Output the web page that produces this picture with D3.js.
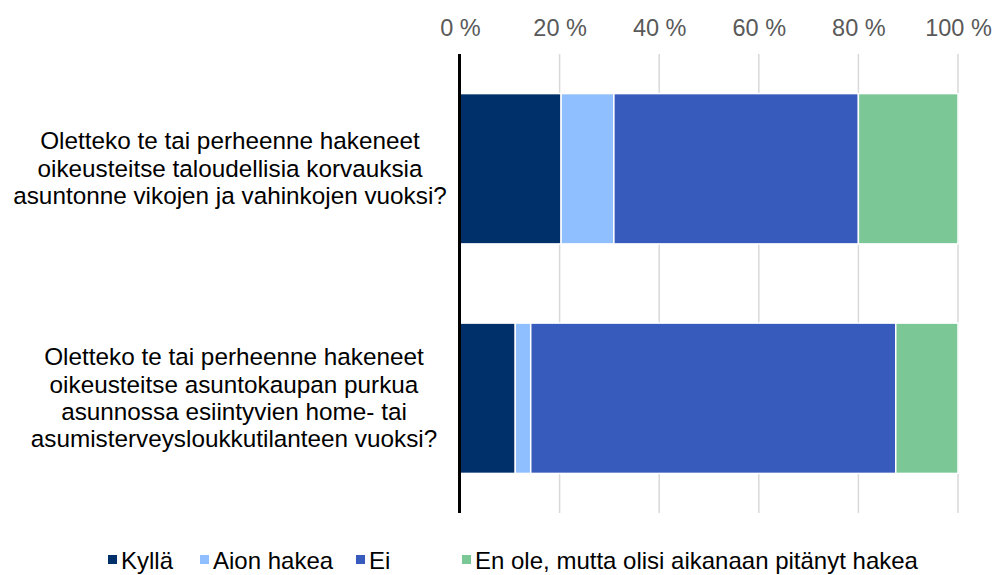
<!DOCTYPE html>
<html>
<head>
<meta charset="utf-8">
<script src="https://cdn.jsdelivr.net/npm/d3@7"></script>
<style>
  body { margin: 0; background: #fff; }
  text { font-family: "Liberation Sans", Arial, sans-serif; }
</style>
</head>
<body>
<div id="chart"></div>
<script>
// Data
var questions = [
  ["Oletteko te tai perheenne hakeneet", "oikeusteitse taloudellisia korvauksia", "asuntonne vikojen ja vahinkojen vuoksi?"],
  ["Oletteko te tai perheenne hakeneet", "oikeusteitse asuntokaupan purkua", "asunnossa esiintyvien home- tai", "asumisterveysloukkutilanteen vuoksi?"]
];
var seriesNames = ["Kyllä", "Aion hakea", "Ei", "En ole, mutta olisi aikanaan pitänyt hakea"];
var kylla = [20.3, 11.1];
var aion = [10.6, 3.1];
var ei = [49.1, 73.3];
var enOle = [20.0, 12.5];
var tickValues = [0, 20, 40, 60, 80, 100];
var colors = ["#003069", "#8fbffe", "#375abd", "#7bc796"];

// Space of graph
var width = 995,
    height = 575;
var plotLeft = 460, plotRight = 958, plotTop = 54, plotBottom = 513;

var svg = d3.select("#chart")
            .append("svg")
             .attr("width", width)
             .attr("height", height);

var scaleX = d3.scaleLinear().domain([0, 100]).range([plotLeft, plotRight]);
var scaleY = d3.scaleBand()
               .domain(d3.range(questions.length))
               .range([plotTop, plotBottom])
               .paddingInner(0.345)
               .paddingOuter(0.1725);

// gridlines
svg.append("g")
   .selectAll("line")
   .data(tickValues.slice(1))
   .enter()
   .append("line")
    .attr("x1", function(d) { return scaleX(d); })
    .attr("x2", function(d) { return scaleX(d); })
    .attr("y1", plotTop)
    .attr("y2", plotBottom)
    .attr("stroke", "#d9d9d9")
    .attr("stroke-width", 1.5);

// top axis labels
var xAxis = d3.axisTop(scaleX)
              .tickValues(tickValues)
              .tickSize(0)
              .tickPadding(0)
              .tickFormat(function(d) { return d + " %"; });
var gx = svg.append("g").attr("transform", "translate(0,36)").call(xAxis);
gx.select(".domain").remove();
gx.selectAll("text")
  .attr("fill", "#595959")
  .style("font-size", "23.5px")
  .style("font-family", "'Liberation Sans', Arial, sans-serif");

// stacked bars
var rows = questions.map(function(q, i) {
  return { i: i, kylla: kylla[i], aion: aion[i], ei: ei[i], enOle: enOle[i] };
});
var stack = d3.stack().keys(["kylla", "aion", "ei", "enOle"]);
var layers = stack(rows);

svg.selectAll(".layer")
   .data(layers)
   .enter()
   .append("g")
    .attr("class", "layer")
    .attr("fill", function(d, k) { return colors[k]; })
   .selectAll("rect")
   .data(function(d) { return d; })
   .enter()
   .append("rect")
    .attr("x", function(d) { return scaleX(d[0]); })
    .attr("y", function(d) { return scaleY(d.data.i); })
    .attr("width", function(d) { return scaleX(d[1]) - scaleX(d[0]); })
    .attr("height", scaleY.bandwidth())
    .attr("stroke", "#fff")
    .attr("stroke-width", 1.5);

// vertical axis line
svg.append("line")
   .attr("x1", plotLeft - 0.5)
   .attr("x2", plotLeft - 0.5)
   .attr("y1", plotTop)
   .attr("y2", plotBottom)
   .attr("stroke", "#000")
   .attr("stroke-width", 3);

// category labels
var lineH = 27.4;
var labelCx = [230, 234];
questions.forEach(function(lines, i) {
  var cy = scaleY(i) + scaleY.bandwidth() / 2;
  var t = svg.append("text")
             .attr("text-anchor", "middle")
             .attr("fill", "#000")
             .style("font-size", "24.3px");
  lines.forEach(function(l, j) {
    t.append("tspan")
     .attr("x", labelCx[i])
     .attr("y", cy + (j - (lines.length - 1) / 2) * lineH + 8)
     .text(l);
  });
});

// legend
var legendX = [108, 200, 356, 462];
var legend = svg.selectAll(".legend")
                .data(seriesNames)
                .enter()
                .append("g")
                 .attr("transform", function(d, i) { return "translate(" + legendX[i] + ",560)"; });
legend.append("rect")
      .attr("x", 0).attr("y", -5)
      .attr("width", 9).attr("height", 9)
      .attr("fill", function(d, i) { return colors[i]; });
legend.append("text")
      .attr("x", 13)
      .attr("y", 8.5)
      .style("font-size", "24px")
      .attr("fill", "#000")
      .text(function(d) { return d; });
</script>
</body>
</html>
